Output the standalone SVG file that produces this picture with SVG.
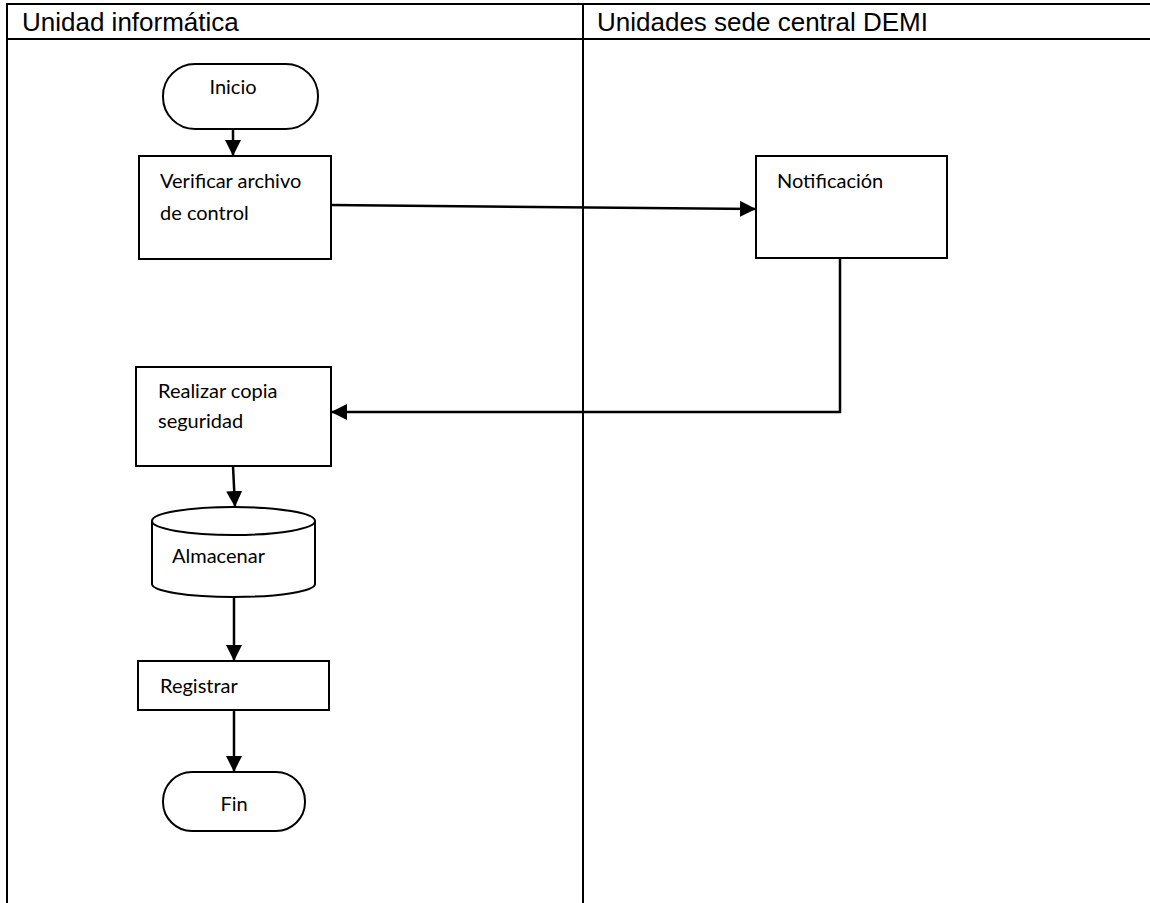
<svg xmlns="http://www.w3.org/2000/svg" width="1150" height="903" viewBox="0 0 1150 903">
  <style>
    .lane { stroke: #000; stroke-width: 2; fill: none; }
    .hdr { font-family: "Liberation Sans", Arial, sans-serif; font-size: 26px; fill: #000; }
    .shape { fill: #fff; stroke: #000; stroke-width: 2; }
    .lbl { font-family: Lato, "Open Sans", sans-serif; font-size: 20px; fill: #000; }
    .conn { stroke: #000; stroke-width: 2.5; fill: none; }
  </style>
  <defs>
    <marker id="arrow" viewBox="0 0 10 10" refX="10" refY="5" markerWidth="6.4" markerHeight="6.4" markerUnits="strokeWidth" orient="auto">
      <path d="M0,0 L10,5 L0,10 Z" fill="#000"/>
    </marker>
  </defs>
  <rect width="1150" height="903" fill="#fff"/>

  <!-- swimlane table -->
  <g id="lanes">
    <line class="lane" x1="6" y1="4" x2="1150" y2="4"/>
    <line class="lane" x1="6" y1="39" x2="1150" y2="39"/>
    <line class="lane" x1="7" y1="3" x2="7" y2="903"/>
    <line class="lane" x1="583" y1="3" x2="583" y2="903"/>
    <text class="hdr" x="22" y="31">Unidad informática</text>
    <text class="hdr" x="597" y="31">Unidades sede central DEMI</text>
  </g>

  <!-- connectors -->
  <g id="connectors">
    <line class="conn" x1="233" y1="129" x2="233" y2="156" marker-end="url(#arrow)"/>
    <line class="conn" x1="331" y1="205" x2="756" y2="209" marker-end="url(#arrow)"/>
    <polyline class="conn" points="840,258 840,412 331,412" marker-end="url(#arrow)"/>
    <line class="conn" x1="233" y1="466" x2="235" y2="507" marker-end="url(#arrow)"/>
    <line class="conn" x1="234" y1="597" x2="234" y2="661" marker-end="url(#arrow)"/>
    <line class="conn" x1="234" y1="710" x2="234" y2="772" marker-end="url(#arrow)"/>
  </g>

  <g id="inicio">
    <rect class="shape" x="163" y="64" width="155" height="65" rx="32" ry="32"/>
    <text class="lbl" x="233" y="94" text-anchor="middle">Inicio</text>
  </g>

  <g id="verificar">
    <rect class="shape" x="139" y="156" width="192" height="103"/>
    <text class="lbl" x="160" y="188">Verificar archivo</text>
    <text class="lbl" x="160" y="220">de control</text>
  </g>

  <g id="notificacion">
    <rect class="shape" x="756" y="156" width="191" height="102"/>
    <text class="lbl" x="777" y="188">Notificación</text>
  </g>

  <g id="realizar">
    <rect class="shape" x="136" y="367" width="195" height="99"/>
    <text class="lbl" x="158" y="398">Realizar copia</text>
    <text class="lbl" x="158" y="428">seguridad</text>
  </g>

  <g id="almacenar">
    <path class="shape" d="M152,521 L152,584 A81.5,13 0 0 0 315,584 L315,521 A81.5,14 0 0 0 152,521 Z"/>
    <path class="shape" d="M152,521 A81.5,14 0 0 0 315,521" fill="none"/>
    <text class="lbl" x="172" y="563">Almacenar</text>
  </g>

  <g id="registrar">
    <rect class="shape" x="138" y="661" width="191" height="49"/>
    <text class="lbl" x="160" y="693">Registrar</text>
  </g>

  <g id="fin">
    <rect class="shape" x="163" y="772" width="142" height="59" rx="29" ry="29"/>
    <text class="lbl" x="234" y="811" text-anchor="middle">Fin</text>
  </g>
</svg>
